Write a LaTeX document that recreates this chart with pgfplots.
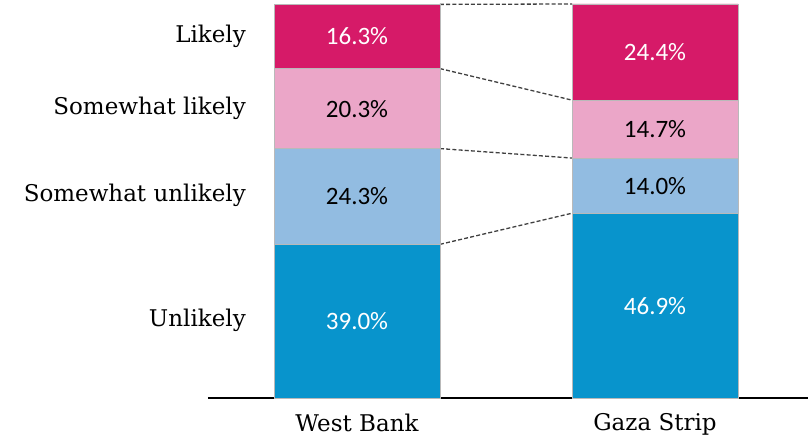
\documentclass[border=0pt]{standalone}
\usepackage{pgfplots}
\usepackage{pgfplotstable}
\pgfplotsset{compat=1.18}
\usepackage{fontspec}
\setmainfont{DejaVu Serif}
\newfontfamily\pct{Carlito}
\definecolor{cLik}{RGB}{214,26,104}
\definecolor{cSwl}{RGB}{235,166,200}
\definecolor{cSwu}{RGB}{146,188,225}
\definecolor{cUnl}{RGB}{8,148,204}
\pgfplotstableread{
x likely swl swu unl
0 16.3 20.3 24.3 39.0
1 24.4 14.7 14.0 46.9
}\datatab
\tikzset{pv/.style={font={\pct\fontsize{25}{29}\selectfont}},
         cl/.style={font={\fontsize{23}{27}\selectfont}, anchor=east, inner sep=0pt},
         cn/.style={dash pattern=on 4pt off 2.2pt, black!75, line width=1.3pt}}
\begin{document}
\begin{tikzpicture}
\useasboundingbox (-208pt,-40pt) rectangle (600pt,398pt);
\begin{axis}[
  at={(0,0)}, anchor=south west,
  scale only axis, width=600pt, height=394pt,
  xmin=-0.5, xmax=1.5134, ymin=0, ymax=100,
  ybar stacked, bar width=166pt,
  axis x line=bottom, axis y line=none,
  axis line style={-, line width=1.3pt, black},
  xtick={0,1}, xticklabels={West Bank, Gaza Strip},
  major tick length=0pt,
  xticklabel style={font=\fontsize{23}{27}\selectfont, yshift=-12pt},
  clip=false,
]
\addplot[fill=cUnl, draw=gray!55, line width=0.6pt] table[x=x,y=unl]{\datatab};
\addplot[fill=cSwu, draw=gray!55, line width=0.6pt] table[x=x,y=swu]{\datatab};
\addplot[fill=cSwl, draw=gray!55, line width=0.6pt] table[x=x,y=swl]{\datatab};
\addplot[fill=cLik, draw=gray!55, line width=0.6pt] table[x=x,y=likely]{\datatab};
% connectors
\draw[cn] (axis cs:0.2785,99.9) -- (axis cs:0.7215,100);
\draw[cn] (axis cs:0.2785,83.6) -- (axis cs:0.7215,75.6);
\draw[cn] (axis cs:0.2785,63.3) -- (axis cs:0.7215,60.9);
\draw[cn] (axis cs:0.2785,39.0) -- (axis cs:0.7215,46.9);
\coordinate (w1) at (axis cs:0,19.5);
\coordinate (w2) at (axis cs:0,51.15);
\coordinate (w3) at (axis cs:0,73.45);
\coordinate (w4) at (axis cs:0,91.75);
\coordinate (g1) at (axis cs:1,23.45);
\coordinate (g2) at (axis cs:1,53.9);
\coordinate (g3) at (axis cs:1,68.25);
\coordinate (g4) at (axis cs:1,87.8);
\coordinate (l1) at (axis cs:-0.3725,19.8);
\coordinate (l2) at (axis cs:-0.3725,51.5);
\coordinate (l3) at (axis cs:-0.3725,73.6);
\coordinate (l4) at (axis cs:-0.3725,91.9);
\end{axis}
\node[pv, white] at (w1) {39.0\%};
\node[pv, black] at (w2) {24.3\%};
\node[pv, black] at (w3) {20.3\%};
\node[pv, white] at (w4) {16.3\%};
\node[pv, white] at (g1) {46.9\%};
\node[pv, black] at (g2) {14.0\%};
\node[pv, black] at (g3) {14.7\%};
\node[pv, white] at (g4) {24.4\%};
\node[cl] at (l1) {Unlikely};
\node[cl] at (l2) {Somewhat unlikely};
\node[cl] at (l3) {Somewhat likely};
\node[cl] at (l4) {Likely};
\end{tikzpicture}
\end{document}
